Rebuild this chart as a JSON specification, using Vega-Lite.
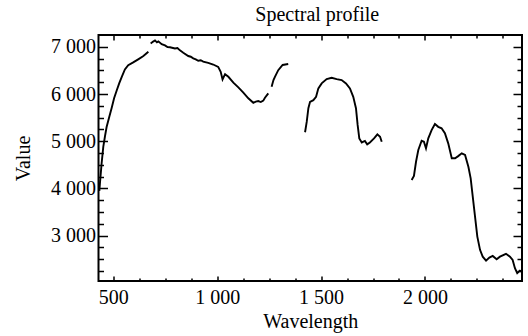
{
  "$schema": "https://vega.github.io/schema/vega-lite/v6.json",
  "width": 423.5,
  "height": 246,
  "autosize": {"type": "none"},
  "padding": {"left": 98.5, "top": 35, "right": 6, "bottom": 55},
  "background": "white",
  "title": {"text": "Spectral profile", "font": "Liberation Serif", "fontSize": 20, "fontWeight": "normal", "color": "black", "frame": "group", "anchor": "middle", "dx": 7, "offset": 9},
  "config": {
    "view": {"stroke": "black", "strokeWidth": 2},
    "axis": {"grid": false, "domain": false, "labelFont": "Liberation Serif", "labelFontSize": 20, "labelColor": "black", "titleFont": "Liberation Serif", "titleFontSize": 20, "titleFontWeight": "normal", "titleColor": "black", "tickColor": "black", "tickWidth": 1.5}
  },
  "data": {"name": "spec"},
  "datasets": {
    "spec": [
      {"wl": 433, "v": 3950, "seg": "a"}, {"wl": 436, "v": 4110, "seg": "a"}, {"wl": 444, "v": 4530, "seg": "a"}, {"wl": 452, "v": 4880, "seg": "a"}, {"wl": 460, "v": 5100, "seg": "a"}, {"wl": 468, "v": 5300, "seg": "a"}, {"wl": 481, "v": 5520, "seg": "a"}, {"wl": 492, "v": 5700, "seg": "a"}, {"wl": 504, "v": 5910, "seg": "a"}, {"wl": 517, "v": 6080, "seg": "a"}, {"wl": 529, "v": 6230, "seg": "a"}, {"wl": 541, "v": 6365, "seg": "a"}, {"wl": 556, "v": 6520, "seg": "a"}, {"wl": 572, "v": 6610, "seg": "a"}, {"wl": 596, "v": 6670, "seg": "a"}, {"wl": 620, "v": 6735, "seg": "a"}, {"wl": 645, "v": 6805, "seg": "a"}, {"wl": 669, "v": 6895, "seg": "a"},
      {"wl": 680, "v": 7070, "seg": "b"}, {"wl": 692, "v": 7110, "seg": "b"}, {"wl": 701, "v": 7135, "seg": "b"}, {"wl": 710, "v": 7095, "seg": "b"}, {"wl": 717, "v": 7115, "seg": "b"}, {"wl": 733, "v": 7055, "seg": "b"}, {"wl": 749, "v": 7030, "seg": "b"}, {"wl": 761, "v": 6995, "seg": "b"}, {"wl": 773, "v": 6990, "seg": "b"}, {"wl": 797, "v": 6965, "seg": "b"}, {"wl": 809, "v": 6975, "seg": "b"}, {"wl": 821, "v": 6925, "seg": "b"}, {"wl": 837, "v": 6875, "seg": "b"}, {"wl": 861, "v": 6805, "seg": "b"}, {"wl": 873, "v": 6790, "seg": "b"}, {"wl": 885, "v": 6755, "seg": "b"}, {"wl": 897, "v": 6735, "seg": "b"}, {"wl": 909, "v": 6705, "seg": "b"}, {"wl": 921, "v": 6715, "seg": "b"}, {"wl": 933, "v": 6685, "seg": "b"}, {"wl": 957, "v": 6660, "seg": "b"}, {"wl": 981, "v": 6625, "seg": "b"}, {"wl": 1005, "v": 6575, "seg": "b"}, {"wl": 1017, "v": 6470, "seg": "b"}, {"wl": 1026, "v": 6310, "seg": "b"}, {"wl": 1038, "v": 6420, "seg": "b"}, {"wl": 1054, "v": 6365, "seg": "b"}, {"wl": 1078, "v": 6240, "seg": "b"}, {"wl": 1102, "v": 6140, "seg": "b"}, {"wl": 1126, "v": 6030, "seg": "b"}, {"wl": 1150, "v": 5910, "seg": "b"}, {"wl": 1174, "v": 5815, "seg": "b"}, {"wl": 1186, "v": 5840, "seg": "b"}, {"wl": 1198, "v": 5850, "seg": "b"}, {"wl": 1210, "v": 5830, "seg": "b"}, {"wl": 1222, "v": 5860, "seg": "b"}, {"wl": 1230, "v": 5920, "seg": "b"}, {"wl": 1246, "v": 6015, "seg": "b"},
      {"wl": 1262, "v": 6155, "seg": "c"}, {"wl": 1271, "v": 6295, "seg": "c"}, {"wl": 1278, "v": 6365, "seg": "c"}, {"wl": 1294, "v": 6505, "seg": "c"}, {"wl": 1315, "v": 6615, "seg": "c"}, {"wl": 1342, "v": 6635, "seg": "c"},
      {"wl": 1423, "v": 5190, "seg": "d"}, {"wl": 1431, "v": 5410, "seg": "d"}, {"wl": 1439, "v": 5700, "seg": "d"}, {"wl": 1447, "v": 5835, "seg": "d"}, {"wl": 1463, "v": 5870, "seg": "d"}, {"wl": 1476, "v": 5940, "seg": "d"}, {"wl": 1487, "v": 6120, "seg": "d"}, {"wl": 1503, "v": 6225, "seg": "d"}, {"wl": 1527, "v": 6315, "seg": "d"}, {"wl": 1551, "v": 6345, "seg": "d"}, {"wl": 1575, "v": 6315, "seg": "d"}, {"wl": 1599, "v": 6295, "seg": "d"}, {"wl": 1620, "v": 6225, "seg": "d"}, {"wl": 1639, "v": 6120, "seg": "d"}, {"wl": 1655, "v": 5940, "seg": "d"}, {"wl": 1668, "v": 5700, "seg": "d"}, {"wl": 1676, "v": 5345, "seg": "d"}, {"wl": 1684, "v": 5060, "seg": "d"}, {"wl": 1696, "v": 4975, "seg": "d"}, {"wl": 1711, "v": 5005, "seg": "d"}, {"wl": 1722, "v": 4935, "seg": "d"}, {"wl": 1735, "v": 4975, "seg": "d"}, {"wl": 1755, "v": 5060, "seg": "d"}, {"wl": 1771, "v": 5145, "seg": "d"}, {"wl": 1784, "v": 5095, "seg": "d"}, {"wl": 1792, "v": 4990, "seg": "d"},
      {"wl": 1936, "v": 4180, "seg": "e"}, {"wl": 1947, "v": 4265, "seg": "e"}, {"wl": 1957, "v": 4565, "seg": "e"}, {"wl": 1968, "v": 4815, "seg": "e"}, {"wl": 1984, "v": 5010, "seg": "e"}, {"wl": 1995, "v": 4990, "seg": "e"}, {"wl": 2005, "v": 4850, "seg": "e"}, {"wl": 2016, "v": 5060, "seg": "e"}, {"wl": 2032, "v": 5235, "seg": "e"}, {"wl": 2048, "v": 5365, "seg": "e"}, {"wl": 2064, "v": 5305, "seg": "e"}, {"wl": 2080, "v": 5275, "seg": "e"}, {"wl": 2096, "v": 5170, "seg": "e"}, {"wl": 2112, "v": 4955, "seg": "e"}, {"wl": 2129, "v": 4640, "seg": "e"}, {"wl": 2145, "v": 4640, "seg": "e"}, {"wl": 2160, "v": 4685, "seg": "e"}, {"wl": 2177, "v": 4745, "seg": "e"}, {"wl": 2193, "v": 4710, "seg": "e"}, {"wl": 2209, "v": 4460, "seg": "e"}, {"wl": 2220, "v": 4215, "seg": "e"}, {"wl": 2230, "v": 3825, "seg": "e"}, {"wl": 2241, "v": 3405, "seg": "e"}, {"wl": 2252, "v": 2980, "seg": "e"}, {"wl": 2265, "v": 2700, "seg": "e"}, {"wl": 2278, "v": 2555, "seg": "e"}, {"wl": 2294, "v": 2470, "seg": "e"}, {"wl": 2310, "v": 2535, "seg": "e"}, {"wl": 2326, "v": 2570, "seg": "e"}, {"wl": 2345, "v": 2500, "seg": "e"}, {"wl": 2361, "v": 2555, "seg": "e"}, {"wl": 2390, "v": 2615, "seg": "e"}, {"wl": 2409, "v": 2555, "seg": "e"}, {"wl": 2422, "v": 2485, "seg": "e"}, {"wl": 2433, "v": 2310, "seg": "e"}, {"wl": 2444, "v": 2205, "seg": "e"}, {"wl": 2457, "v": 2260, "seg": "e"}, {"wl": 2465, "v": 2240, "seg": "e"}
    ]
  },
  "resolve": {"axis": {"x": "independent", "y": "independent"}},
  "layer": [
    {
      "mark": {"type": "line", "color": "black", "strokeWidth": 1.9},
      "encoding": {
        "detail": {"field": "seg", "type": "nominal"},
        "x": {"field": "wl", "type": "quantitative", "scale": {"domain": [429, 2467], "nice": false, "zero": false},
              "axis": {"orient": "bottom", "values": [500, 1000, 1500, 2000], "ticks": false, "labelPadding": 6, "labelExpr": "replace(format(datum.value, ','), ',', ' ')", "title": "Wavelength", "titlePadding": 4}},
        "y": {"field": "v", "type": "quantitative", "scale": {"domain": [2040, 7250], "nice": false, "zero": false},
              "axis": {"orient": "left", "values": [3000, 4000, 5000, 6000, 7000], "ticks": false, "labelPadding": 3, "labelExpr": "replace(format(datum.value, ','), ',', ' ')", "title": "Value", "titlePadding": 17}}
      }
    },
    {
      "mark": {"type": "point", "opacity": 0},
      "encoding": {
        "x": {"field": "wl", "type": "quantitative", "scale": {"domain": [429, 2467], "nice": false, "zero": false},
              "axis": {"orient": "bottom", "values": [500, 1000, 1500, 2000], "labels": false, "title": null, "tickSize": -5}},
        "y": {"field": "v", "type": "quantitative", "scale": {"domain": [2040, 7250], "nice": false, "zero": false},
              "axis": {"orient": "left", "values": [3000, 4000, 5000, 6000, 7000], "labels": false, "title": null, "tickSize": -9}}
      }
    },
    {
      "mark": {"type": "point", "opacity": 0},
      "encoding": {
        "x": {"field": "wl", "type": "quantitative", "scale": {"domain": [429, 2467], "nice": false, "zero": false},
              "axis": {"orient": "bottom", "values": [625, 750, 875, 1125, 1250, 1375, 1625, 1750, 1875, 2125, 2250, 2375], "labels": false, "title": null, "tickSize": -3}},
        "y": {"field": "v", "type": "quantitative", "scale": {"domain": [2040, 7250], "nice": false, "zero": false},
              "axis": {"orient": "left", "values": [2250, 2500, 2750, 3250, 3500, 3750, 4250, 4500, 4750, 5250, 5500, 5750, 6250, 6500, 6750], "labels": false, "title": null, "tickSize": -5}}
      }
    },
    {
      "mark": {"type": "point", "opacity": 0},
      "encoding": {
        "x": {"field": "wl", "type": "quantitative", "scale": {"domain": [429, 2467], "nice": false, "zero": false},
              "axis": {"orient": "top", "values": [500, 1000, 1500, 2000], "labels": false, "title": null, "tickSize": -5}},
        "y": {"field": "v", "type": "quantitative", "scale": {"domain": [2040, 7250], "nice": false, "zero": false},
              "axis": {"orient": "right", "values": [3000, 4000, 5000, 6000, 7000], "labels": false, "title": null, "tickSize": -9}}
      }
    },
    {
      "mark": {"type": "point", "opacity": 0},
      "encoding": {
        "x": {"field": "wl", "type": "quantitative", "scale": {"domain": [429, 2467], "nice": false, "zero": false},
              "axis": {"orient": "top", "values": [625, 750, 875, 1125, 1250, 1375, 1625, 1750, 1875, 2125, 2250, 2375], "labels": false, "title": null, "tickSize": -3}},
        "y": {"field": "v", "type": "quantitative", "scale": {"domain": [2040, 7250], "nice": false, "zero": false},
              "axis": {"orient": "right", "values": [2250, 2500, 2750, 3250, 3500, 3750, 4250, 4500, 4750, 5250, 5500, 5750, 6250, 6500, 6750], "labels": false, "title": null, "tickSize": -5}}
      }
    }
  ]
}
